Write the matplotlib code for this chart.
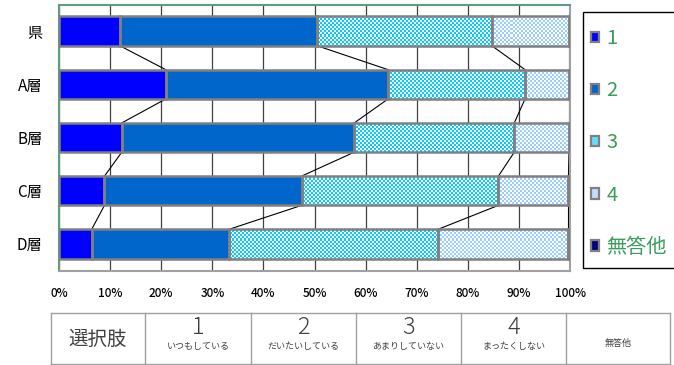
import numpy as np
import matplotlib
matplotlib.use('Agg')
import matplotlib.pyplot as plt
from matplotlib.patches import Patch, Rectangle
from matplotlib.lines import Line2D
from matplotlib.colors import to_rgb

plt.rcParams['font.family'] = ['Noto Sans CJK JP', 'DejaVu Sans']

# ---- data ----
categories = ['県', 'A層', 'B層', 'C層', 'D層']
s1 = [11.9, 20.9, 12.3, 8.9, 6.4]
s2 = [38.6, 43.5, 45.5, 38.6, 26.9]
s3 = [34.2, 26.8, 31.3, 38.5, 40.9]
s4 = [15.1, 8.6, 10.7, 13.7, 25.5]
s5 = [0.2, 0.2, 0.2, 0.3, 0.3]
series_names = ['1', '2', '3', '4', '無答他']
xtick_values = [0, 10, 20, 30, 40, 50, 60, 70, 80, 90, 100]
table_first = '選択肢'
choice_nums = ['1', '2', '3', '4']
choice_texts = ['いつもしている', 'だいたいしている', 'あまりしていない', 'まったくしない']
table_last = '無答他'

# ---- style ----
colors = ['#0000FF', '#0066CC', '#00CCFF', '#99CCFF', '#000080']
checker = [False, False, True, True, False]
legend_colors = ['#0000FF', '#0066CC', '#66DDFF', '#C2DDFF', '#000080']
edge = '#808080'

W, H = 674, 365
fig = plt.figure(figsize=(W / 100, H / 100), dpi=100)
ax = fig.add_axes([59 / W, 1 - 270.5 / H, 511 / W, 266 / H])

y = np.arange(len(categories))
data = [s1, s2, s3, s4, s5]
bh = 0.55
left = np.zeros(len(categories))
for vals, c, chk in zip(data, colors, checker):
    bars = ax.barh(y, vals, left=left, height=bh,
                   color=('white' if chk else c), edgecolor='none', zorder=3)
    if chk:
        nx, ny = 256, 133
        ii, jj = np.meshgrid(np.arange(nx), np.arange(ny))
        img = np.ones((ny, nx, 3))
        img[(ii + jj) % 2 == 0] = to_rgb(c)
        for p in bars.patches:
            im = ax.imshow(img, extent=(0, 100, 4.5, -0.5), interpolation='nearest',
                           aspect='auto', zorder=3.1)
            im.set_clip_path(p)
    left = left + np.array(vals)

# edges on top
left = np.zeros(len(categories))
for vals in data:
    ax.barh(y, vals, left=left, height=bh, fill=False, edgecolor=edge,
            linewidth=1.8, zorder=3.3)
    left = left + np.array(vals)

# series lines
cum = np.zeros(len(categories))
for vals in data[:4]:
    cum = cum + np.array(vals)
    for i in range(len(categories) - 1):
        ax.plot([cum[i], cum[i + 1]], [i + bh / 2, i + 1 - bh / 2],
                color='black', lw=0.8, zorder=2.5)

ax.set_xlim(0, 100)
ax.set_ylim(4.5, -0.5)
ax.set_xticks(xtick_values)
ax.set_xticklabels([f'{v}%' for v in xtick_values])
ax.set_yticks(y)
ax.set_yticklabels(categories)
ax.xaxis.grid(True, color='#404040', lw=0.9)
ax.set_axisbelow(True)
ax.tick_params(axis='x', length=0, pad=12, labelsize=8.5)
ax.tick_params(axis='y', length=0, pad=12, labelsize=11)
for lab in ax.get_xticklabels():
    lab.set_fontweight('medium')
for s in ['top', 'left']:
    ax.spines[s].set_color('#5E9E7E')
    ax.spines[s].set_linewidth(1.5)
for s in ['right', 'bottom']:
    ax.spines[s].set_color('#A0A0A0')
    ax.spines[s].set_linewidth(1.5)

# legend
handles = [Patch(facecolor=c, edgecolor=edge, linewidth=1.6) for c in legend_colors]
fig.legend(handles, series_names, loc='upper left',
           bbox_to_anchor=(591 / W, 1 - 28 / H), frameon=False, fontsize=14.5,
           labelcolor='#3A9D5D', handlelength=0.42, handleheight=0.42,
           handletextpad=0.35, labelspacing=1.55, borderpad=0, borderaxespad=0)
fig.add_artist(Rectangle((583 / W, 1 - 268 / H), 0.3, 256 / H,
                         transform=fig.transFigure, fill=False, ec='black', lw=1))

# table
col_x = [51, 145, 251, 356, 461, 566, 670]
t_top, t_bot = 313, 364
tc = '#A0A0A0'
for yy in (t_top, t_bot):
    fig.add_artist(Line2D([col_x[0] / W, col_x[-1] / W], [1 - yy / H, 1 - yy / H],
                          transform=fig.transFigure, color=tc, lw=1))
for xx in col_x:
    fig.add_artist(Line2D([xx / W, xx / W], [1 - t_top / H, 1 - t_bot / H],
                          transform=fig.transFigure, color=tc, lw=1))
txt = '#404040'
fig.text((col_x[0] + col_x[1]) / 2 / W, 1 - 339 / H, table_first, ha='center',
         va='center', fontsize=14, color=txt)
for k, (n, t) in enumerate(zip(choice_nums, choice_texts)):
    cx = (col_x[k + 1] + col_x[k + 2]) / 2 / W
    fig.text(cx, 1 - 327 / H, n, ha='center', va='center', fontsize=17,
             color=txt, fontweight='light')
    fig.text(cx, 1 - 346 / H, t, ha='center', va='center', fontsize=6.5, color=txt)
fig.text((col_x[5] + col_x[6]) / 2 / W, 1 - 343 / H, table_last, ha='center',
         va='center', fontsize=6.5, color=txt)

fig.savefig('out.png', dpi=100)
